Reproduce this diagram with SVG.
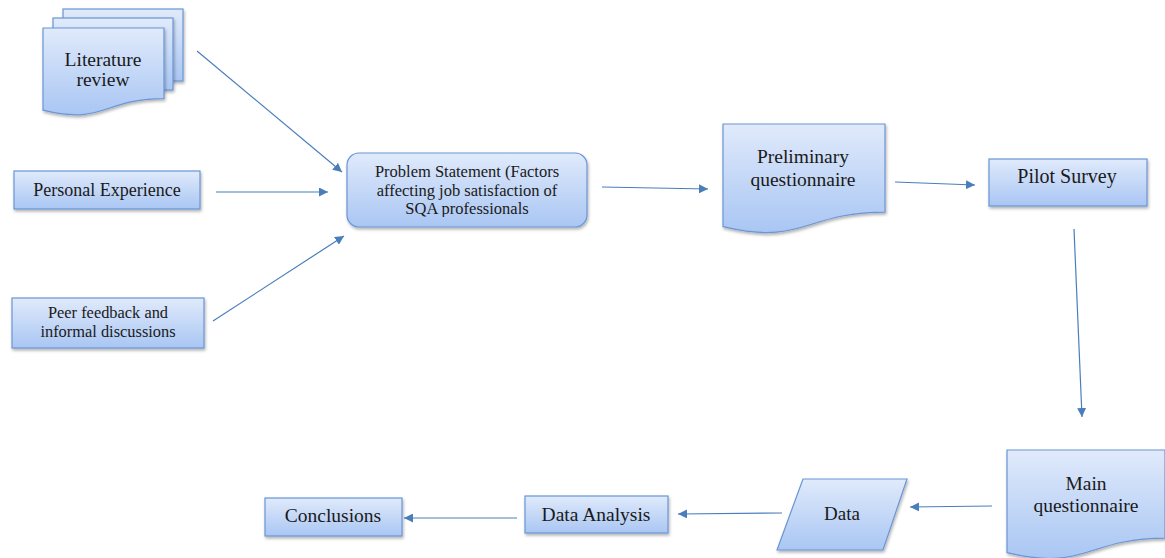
<svg xmlns="http://www.w3.org/2000/svg" width="1165" height="558" viewBox="0 0 1165 558">
<defs>
<linearGradient id="g" x1="0" y1="0" x2="0" y2="1">
<stop offset="0" stop-color="#e0eafb"/>
<stop offset="1" stop-color="#a9c6f3"/>
</linearGradient>
<filter id="sh" x="-10%" y="-10%" width="125%" height="130%">
<feDropShadow dx="1" dy="2" stdDeviation="1.5" flood-color="#000" flood-opacity="0.3"/>
</filter>
<marker id="ah" viewBox="0 0 10 10" refX="10" refY="5" markerWidth="9" markerHeight="9" markerUnits="userSpaceOnUse" orient="auto">
<path d="M0,0 L10,5 L0,10 Z" fill="#4a7ebb"/>
</marker>
<clipPath id="pc"><rect x="340" y="150" width="260" height="67"/></clipPath>
</defs>
<style>
.s{fill:url(#g);stroke:#6b95d6;stroke-width:1.2;filter:url(#sh)}
text{font-family:'Liberation Serif','DejaVu Serif',serif;fill:#1a1a1a;text-anchor:middle}
.c{stroke:#4a7ebb;stroke-width:1.2;fill:none;marker-end:url(#ah)}
</style>
<rect width="1165" height="558" fill="#fff"/>

<g id="connectors">
<line class="c" x1="197" y1="51" x2="342" y2="172"/>
<line class="c" x1="216" y1="192" x2="328" y2="192"/>
<line class="c" x1="213" y1="321" x2="344" y2="236"/>
<line class="c" x1="602" y1="187" x2="708" y2="189"/>
<line class="c" x1="895" y1="182" x2="975" y2="185"/>
<line class="c" x1="1074" y1="229" x2="1082" y2="417"/>
<line class="c" x1="992" y1="506" x2="910" y2="507"/>
<line class="c" x1="782" y1="513" x2="678" y2="514"/>
<line class="c" x1="517" y1="518" x2="404" y2="518"/>
</g>

<g id="literature-review" font-family="Liberation Serif, serif">
<rect class="s" x="63" y="9" width="120" height="72"/>
<rect class="s" x="53" y="18" width="120" height="72"/>
<path class="s" d="M43,28 H164 V98.6 C103.5,98.6 103.5,125.4 43,110.2 Z"/>
<text font-size="19.5" x="103" y="65.5">Literature</text>
<text font-size="19.5" x="103" y="86">review</text>
</g>

<g id="personal-experience">
<rect class="s" x="14" y="171" width="186" height="38"/>
<text font-size="18" x="107" y="196">Personal Experience</text>
</g>

<g id="peer-feedback">
<rect class="s" x="12" y="298" width="192" height="50"/>
<text font-size="16.4" x="108" y="318">Peer feedback and</text>
<text font-size="16.4" x="108" y="337">informal discussions</text>
</g>

<g id="problem-statement">
<rect class="s" x="347" y="153" width="240" height="74" rx="12" ry="12"/>
<g clip-path="url(#pc)">
<text font-size="16.5" x="467" y="177">Problem Statement (Factors</text>
<text font-size="16.5" x="467" y="196">affecting job satisfaction of</text>
<text font-size="16.5" x="467" y="214">SQA professionals</text>
</g>
</g>

<g id="preliminary-questionnaire">
<path class="s" d="M723,124 H885 V212.2 C804,212.2 804,245.8 723,226.7 Z"/>
<text font-size="19.5" x="803" y="163">Preliminary</text>
<text font-size="19.5" x="803" y="186">questionnaire</text>
</g>

<g id="pilot-survey">
<rect class="s" x="989" y="159" width="158" height="47"/>
<text font-size="20" x="1067" y="183">Pilot Survey</text>
</g>

<g id="main-questionnaire">
<path class="s" d="M1007,450 H1165 V538.2 C1086,538.2 1086,571.8 1007,552.7 Z"/>
<text font-size="19.5" x="1086" y="490">Main</text>
<text font-size="19.5" x="1086" y="512">questionnaire</text>
</g>

<g id="data">
<path class="s" d="M803,479 H907 L883,550 H777 Z"/>
<text font-size="19" x="842" y="520">Data</text>
</g>

<g id="data-analysis">
<rect class="s" x="525" y="496" width="143" height="37"/>
<text font-size="19.5" x="596" y="521">Data Analysis</text>
</g>

<g id="conclusions">
<rect class="s" x="265" y="498" width="137" height="38"/>
<text font-size="19.5" x="333" y="522">Conclusions</text>
</g>
</svg>
